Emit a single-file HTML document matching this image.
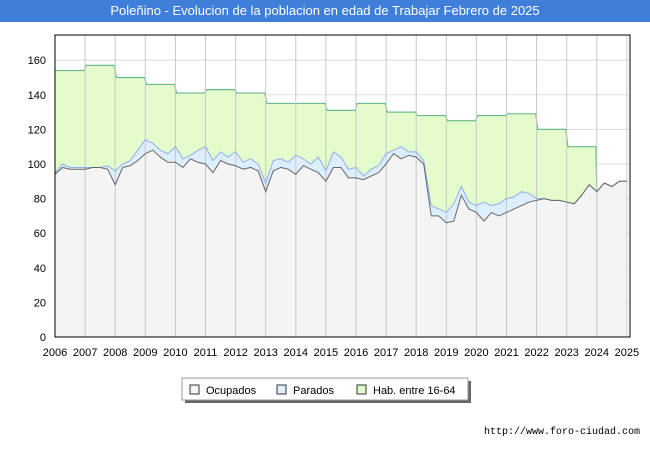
<!DOCTYPE html>
<html><head><meta charset="utf-8"><style>
body{margin:0;width:650px;height:450px;background:#fff;font-family:"Liberation Sans",sans-serif;overflow:hidden;position:relative}
#title{position:absolute;left:0;top:0;width:650px;height:22px;background:#3f7fd9;color:#fff;font-size:13px;text-align:center;line-height:22px}
svg{position:absolute;left:0;top:0}
#url{position:absolute;right:10px;top:427px;font-size:10px;color:#000;font-family:"Liberation Mono",monospace}
</style></head><body>
<div id="title">Poleñino - Evolucion de la poblacion en edad de Trabajar Febrero de 2025</div>
<svg id="chart" width="650" height="450"></svg>
<div id="url">http://www.foro-ciudad.com</div>
<script>
const yearTicks=[2006,2007,2008,2009,2010,2011,2012,2013,2014,2015,2016,2017,2018,2019,2020,2021,2022,2023,2024,2025];
const valueTicks=[0,20,40,60,80,100,120,140,160];
const habYears=[2006,2007,2008,2009,2010,2011,2012,2013,2014,2015,2016,2017,2018,2019,2020,2021,2022,2023];
const habValues=[154,157,150,146,141,143,141,135,135,131,135,130,128,125,128,129,120,110];
// quarterly from 2006.0
const ocupados=[94,98,97,97, 97,98,98,97, 88,98,99,102, 106,108,104,101, 101,98,103,101, 100,95,102,100, 99,97,98,96, 84,96,98,97, 94,99,97,95, 90,98,98,92, 92,91,93,95, 100,106,103,105, 104,100,70,70, 66,67,82,74, 72,67,72,70, 72,74,76,78, 79,80,79,79, 78,77,82,88, 84,89,87,90, 90];
const parados=[1,2,1,1, 1,0,0,2, 8,2,3,6, 8,4,4,5, 9,5,2,7, 10,7,5,4, 8,4,5,4, 5,6,5,4, 11,4,3,9, 6,9,6,5, 6,2,4,4, 6,2,7,2, 3,2,6,4, 6,10,5,4, 4,11,4,7, 8,7,8,5, 1];
const X0=55,X1=630,Y0=35,Y1=337;
const xs=t=>55+(t-2006)*30.1;
const ys=v=>337-v*1.73;
const svg=document.getElementById('chart');
const NS='http://www.w3.org/2000/svg';
function mk(tag,attrs){const e=document.createElementNS(NS,tag);for(const k in attrs)e.setAttribute(k,attrs[k]);svg.appendChild(e);return e;}
let bg=mk('rect',{x:X0,y:Y0,width:X1-X0,height:Y1-Y0,fill:'#fff'});


valueTicks.forEach(v=>{
 const l=mk('line',{x1:X0,x2:X1,y1:ys(v),y2:ys(v),stroke:'#ddd','stroke-width':1});
 
 
 const t=mk('text',{x:46,y:ys(v)+4,'text-anchor':'end','font-size':11,fill:'#000'});t.textContent=v;
 
 
});
// hab area
let hp=[];
habYears.forEach((y,i)=>{hp.push([xs(y+(i?0.04:0)),ys(habValues[i])]);hp.push([xs(y+0.97),ys(habValues[i])]);});
const total=ocupados.map((o,i)=>o+(parados[i]||0));
const tq=i=>2006+i/4;
const habEnd=2024;
let habArea='M'+hp.map(p=>p.join(',')).join(' L')+` L${xs(habEnd)},${ys(total[72])}`;
for(let i=72;i>=0;i--)habArea+=` L${xs(tq(i))},${ys(total[i])}`;
habArea+='Z';
let ha=mk('path',{d:habArea,fill:'#e4fccc'});


let hl=mk('path',{d:'M'+hp.map(p=>p.join(',')).join(' L')+` L${xs(habEnd)},${ys(total[72])}`,fill:'none',stroke:'#6cba8c','stroke-width':1.2});


// parados area
let tline='M'+total.map((v,i)=>xs(tq(i))+','+ys(v)).join(' L');
let pa=mk('path',{d:tline+` L${xs(tq(total.length-1))},${Y1} L${X0},${Y1}Z`,fill:'#ddeeff'});


let oline='M'+ocupados.map((v,i)=>xs(tq(i))+','+ys(v)).join(' L');
let oa=mk('path',{d:oline+` L${xs(tq(ocupados.length-1))},${Y1} L${X0},${Y1}Z`,fill:'#f4f4f4'});


yearTicks.forEach(y=>{
 const l=mk('line',{x1:xs(y),x2:xs(y),y1:Y0,y2:Y1,stroke:'#c8c8c8','stroke-width':1});
 
 
 const t=mk('text',{x:xs(y),y:356,'text-anchor':'middle','font-size':11,fill:'#000'});t.textContent=y;
 
 
});
let pl=mk('path',{d:tline,fill:'none',stroke:'#8fb0ee','stroke-width':1});


let ol=mk('path',{d:oline,fill:'none',stroke:'#666','stroke-width':1});


let fr=mk('rect',{x:X0,y:Y0,width:X1-X0,height:Y1-Y0,fill:'none',stroke:'#000','stroke-width':1});


// legend
let ls=mk('rect',{x:185,y:381,width:286,height:22,fill:'#666'});


let lb=mk('rect',{x:182,y:378,width:286,height:22,fill:'#fff',stroke:'#999'});


[['Ocupados','#f4f4f4',190],['Parados','#ddeeff',277],['Hab. entre 16-64','#e4fccc',357]].forEach(e=>{
 const r=mk('rect',{x:e[2],y:385,width:9,height:9,fill:e[1],stroke:'#333'});
 
 
 const t=mk('text',{x:e[2]+16,y:394,'font-size':11,fill:'#000'});t.textContent=e[0];
 
 
});
</script>
</body></html>
